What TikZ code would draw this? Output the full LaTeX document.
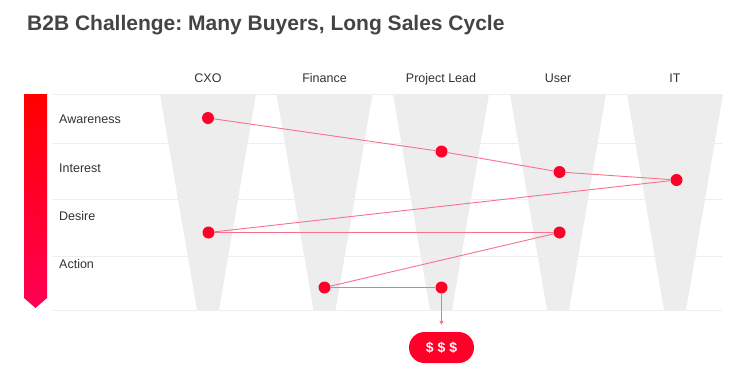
\documentclass[tikz,border=0pt]{standalone}
\usepackage{fontspec}
\setmainfont{Liberation Sans}
\usetikzlibrary{shapes.misc,arrows.meta}
\definecolor{funnelc}{HTML}{EDEDED}
\definecolor{gridc}{HTML}{EEEEEE}
\definecolor{dotred}{HTML}{FF0028}
\definecolor{linkc}{HTML}{F7728A}
\definecolor{txtc}{HTML}{333333}
\definecolor{ttlc}{HTML}{444444}
\definecolor{barbot}{HTML}{FF0055}
\frenchspacing
\begin{document}
\begin{tikzpicture}[x=1pt,y=-1pt,
  dot/.style={circle,fill=dotred,inner sep=0pt,minimum size=12pt},
  linkline/.style={draw=linkc,line width=0.9pt},
  hdr/.style={font=\fontsize{12.5}{14}\selectfont,text=txtc,anchor=base,inner sep=0pt},
  rowlab/.style={font=\fontsize{12.5}{14}\selectfont,text=txtc,anchor=base west,inner sep=0pt},
  gridline/.style={draw=gridc,line width=0.8pt},
  funnel/.style={fill=funnelc,draw=none}]
\useasboundingbox[fill=white] (0,0) rectangle (749,381);
% title
\node[anchor=base west,inner sep=0pt,text=ttlc,font=\fontsize{21}{24}\selectfont\bfseries] (title) at (27,30) {B2B Challenge: Many Buyers, Long Sales Cycle};
% funnels
\foreach \c in {208,324.5,441,558,675}{
  \path[funnel] (\c-48,94) -- (\c+48,94) -- (\c+11,310) -- (\c-11,310) -- cycle;
}
% grid lines
\foreach \yy in {94,143,199,256,310}{
  \draw[gridline] (52,\yy) -- (722,\yy);
}
% bar
\shade[top color=red,bottom color=barbot] (24,94) -- (47,94) -- (47,298) -- (35.5,308) -- (24,298) -- cycle;
% headers
\node[hdr] (hcxo) at (208,82) {CXO};
\node[hdr] (hfin) at (324.5,82) {Finance};
\node[hdr] (hpl) at (441,82) {Project Lead};
\node[hdr] (husr) at (558,82) {User};
\node[hdr] (hit) at (675,82) {IT};
% row labels
\node[rowlab] (raw) at (59,123) {Awareness};
\node[rowlab] (rin) at (59,172) {Interest};
\node[rowlab] (rde) at (59,220) {Desire};
\node[rowlab] (rac) at (59,268) {Action};
% dots
\node[dot] (cxo1) at (208,118) {};
\node[dot] (pl1) at (441.5,151.5) {};
\node[dot] (usr1) at (559.5,172) {};
\node[dot] (it1) at (676.5,180) {};
\node[dot] (cxo2) at (208.5,232.5) {};
\node[dot] (usr2) at (559.5,232.5) {};
\node[dot] (fin1) at (324.5,287.5) {};
\node[dot] (pl2) at (441.5,287.5) {};
% pill
\node[rounded rectangle,fill=dotred,minimum width=65pt,minimum height=31pt,inner sep=0pt,text=white,font=\fontsize{14}{16}\selectfont\bfseries] (money) at (441.5,347.5) {\$\hspace{4pt}\$\hspace{4pt}\$};
% links
\draw[linkline] (cxo1) -- (pl1);
\draw[linkline] (pl1) -- (usr1);
\draw[linkline] (usr1) -- (it1);
\draw[linkline] (it1) -- (cxo2);
\draw[linkline] (cxo2) -- (usr2);
\draw[linkline] (usr2) -- (fin1);
\draw[linkline] (fin1) -- (pl2);
\draw[linkline,-{Triangle[length=4pt,width=4pt]},shorten >=7pt] (pl2) -- (money);
\end{tikzpicture}
\end{document}
